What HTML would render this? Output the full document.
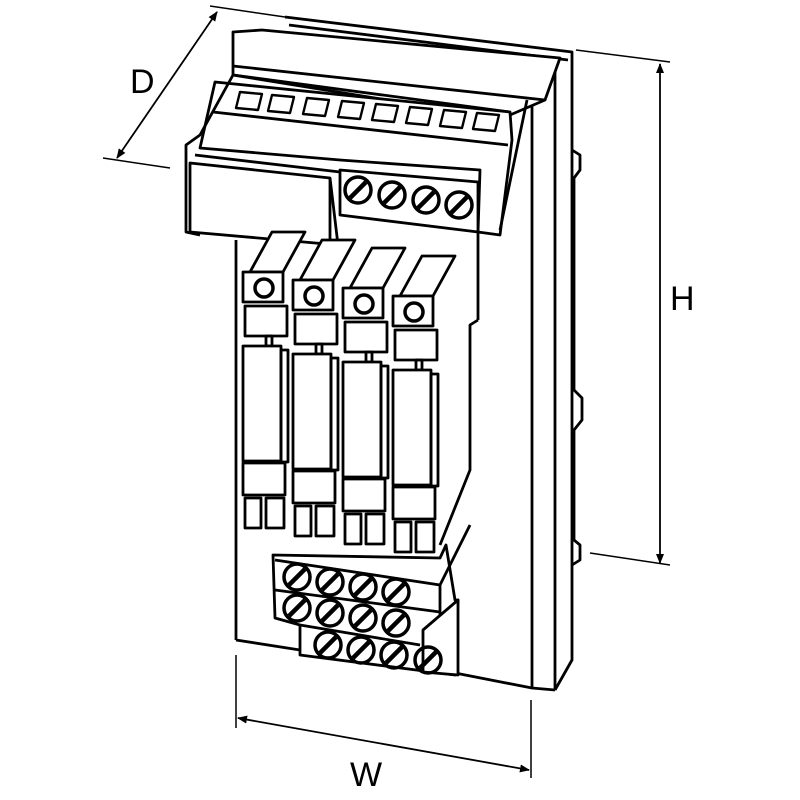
<!DOCTYPE html>
<html><head><meta charset="utf-8"><style>
html,body{margin:0;padding:0;background:#fff;width:800px;height:800px;overflow:hidden}
svg{display:block}
text{font-family:"Liberation Sans",sans-serif;font-size:34px;fill:#000}
</style></head><body>
<svg width="800" height="800" viewBox="0 0 800 800" fill="none" stroke="#000" stroke-width="2.8" stroke-linejoin="round">
<defs>
<marker id="a" markerWidth="10" markerHeight="10" refX="9" refY="5" orient="auto-start-reverse" markerUnits="userSpaceOnUse"><path d="M0,1 L10,5 L0,9 z" fill="#000" stroke="none"/></marker>
</defs>
<!-- Dimension D -->
<line x1="103" y1="158" x2="170" y2="168" stroke-width="1.5"/>
<line x1="210" y1="6" x2="285" y2="17" stroke-width="1.5"/>
<line x1="117" y1="158" x2="217" y2="12" stroke-width="1.8" marker-start="url(#a)" marker-end="url(#a)"/>
<text x="130" y="93" stroke="none">D</text>
<!-- Dimension H -->
<line x1="576" y1="50" x2="670" y2="62" stroke-width="1.5"/>
<line x1="590" y1="553" x2="670" y2="565" stroke-width="1.5"/>
<line x1="660" y1="64" x2="660" y2="563" stroke-width="1.8" marker-start="url(#a)" marker-end="url(#a)"/>
<text x="670" y="310" stroke="none">H</text>
<!-- Dimension W -->
<line x1="236" y1="655" x2="236" y2="728" stroke-width="1.5"/>
<line x1="531" y1="700" x2="531" y2="778" stroke-width="1.5"/>
<line x1="238" y1="718" x2="529" y2="770" stroke-width="1.8" marker-start="url(#a)" marker-end="url(#a)"/>
<text x="350" y="786" stroke="none">W</text>

<!-- back plate / side -->
<polyline points="285,17 572,52 572,660 555,690"/>
<line x1="289" y1="25" x2="568" y2="60"/>
<line x1="555" y1="62" x2="555" y2="690"/>
<line x1="532" y1="100" x2="532" y2="688"/>
<polyline points="572,150 580,155 580,170 574,178 574,390 582,398 582,420 574,430 574,540 580,545 580,560 572,565"/>
<!-- front panel -->
<line x1="236" y1="240" x2="236" y2="640"/>
<polyline points="236,640 300,650"/>
<polyline points="450,672 532,688 555,690"/>
<line x1="478" y1="232" x2="478" y2="320"/>
<polyline points="478,320 470,325 470,470 440,545"/>

<!-- top cover -->
<polygon points="233,32 262,30 560,58 545,100 510,115 510,120 233,75" fill="#fff"/>
<line x1="233" y1="66" x2="545" y2="100"/>
<line x1="233" y1="75" x2="510" y2="112"/>
<polygon points="215,82 510,112 512,140 500,235 478,232 480,170 340,160 200,148" fill="#fff"/>
<line x1="213" y1="112" x2="508" y2="145"/>
<line x1="527" y1="100" x2="500" y2="230"/>
<g stroke-width="2.4">
<polygon points="240,92 262,94 258,110 236,108"/>
<polygon points="272,95 294,97 290,113 268,111"/>
<polygon points="307,98 329,100 325,116 303,114"/>
<polygon points="342,101 364,103 360,119 338,117"/>
<polygon points="376,104 398,106 394,122 372,120"/>
<polygon points="410,107 432,109 428,125 406,123"/>
<polygon points="444,110 466,112 462,128 440,126"/>
<polygon points="477,113 499,115 495,131 473,129"/>
</g>
<polyline points="233,75 200,135 186,145 186,232 200,235"/>
<polygon points="190,163 330,178 338,245 190,232" fill="#fff"/>
<line x1="195" y1="155" x2="340" y2="172"/>
<line x1="330" y1="178" x2="330" y2="245"/>
<polygon points="340,170 478,182 478,232 340,215" fill="#fff"/>
<g stroke-width="3.5">
<circle cx="358" cy="190" r="13"/><line x1="350" y1="198" x2="366" y2="182" stroke-width="4.5"/>
<circle cx="392" cy="195" r="13"/><line x1="384" y1="203" x2="400" y2="187" stroke-width="4.5"/>
<circle cx="426" cy="200" r="13"/><line x1="418" y1="208" x2="434" y2="192" stroke-width="4.5"/>
<circle cx="459" cy="205" r="13"/><line x1="451" y1="213" x2="467" y2="197" stroke-width="4.5"/>
</g>

<!-- modules -->
<g id="m">
<polygon points="250,272 283,272 305,232 272,232" fill="#fff"/>
<rect x="243" y="272" width="40" height="30" fill="#fff"/>
<circle cx="264" cy="288" r="9" stroke-width="3.5"/>
<rect x="245" y="306" width="42" height="30" fill="#fff"/>
<rect x="266" y="336" width="6" height="10"/>
<rect x="243" y="346" width="38" height="115" fill="#fff"/>
<rect x="281" y="350" width="7" height="112"/>
<rect x="243" y="463" width="42" height="32" fill="#fff"/>
<rect x="245" y="498" width="16" height="30" fill="#fff"/>
<rect x="266" y="498" width="18" height="30" fill="#fff"/>
</g>
<use href="#m" transform="translate(50,8)"/>
<use href="#m" transform="translate(100,16)"/>
<use href="#m" transform="translate(150,24)"/>

<!-- bottom terminal block -->
<polygon points="273,555 440,558 446,545 455,600 458,600 455,675 300,655 300,625 275,618" fill="#fff"/>
<polyline points="275,560 440,585 470,525"/>
<line x1="440" y1="585" x2="440" y2="650"/>
<polygon points="423,630 458,600 458,675 423,672" fill="#fff"/>
<line x1="300" y1="625" x2="420" y2="645"/>
<line x1="275" y1="590" x2="440" y2="612"/>
<g stroke-width="3.5">
<circle cx="297" cy="577" r="13"/><line x1="289" y1="585" x2="305" y2="569" stroke-width="4.5"/>
<circle cx="330" cy="582" r="13"/><line x1="322" y1="590" x2="338" y2="574" stroke-width="4.5"/>
<circle cx="363" cy="587" r="13"/><line x1="355" y1="595" x2="371" y2="579" stroke-width="4.5"/>
<circle cx="396" cy="592" r="13"/><line x1="388" y1="600" x2="404" y2="584" stroke-width="4.5"/>
<circle cx="297" cy="608" r="13"/><line x1="289" y1="616" x2="305" y2="600" stroke-width="4.5"/>
<circle cx="330" cy="613" r="13"/><line x1="322" y1="621" x2="338" y2="605" stroke-width="4.5"/>
<circle cx="363" cy="618" r="13"/><line x1="355" y1="626" x2="371" y2="610" stroke-width="4.5"/>
<circle cx="396" cy="623" r="13"/><line x1="388" y1="631" x2="404" y2="615" stroke-width="4.5"/>
<circle cx="328" cy="645" r="13"/><line x1="320" y1="653" x2="336" y2="637" stroke-width="4.5"/>
<circle cx="361" cy="650" r="13"/><line x1="353" y1="658" x2="369" y2="642" stroke-width="4.5"/>
<circle cx="394" cy="655" r="13"/><line x1="386" y1="663" x2="402" y2="647" stroke-width="4.5"/>
<circle cx="428" cy="660" r="13"/><line x1="420" y1="668" x2="436" y2="652" stroke-width="4.5"/>
</g>
</svg>
</body></html>
